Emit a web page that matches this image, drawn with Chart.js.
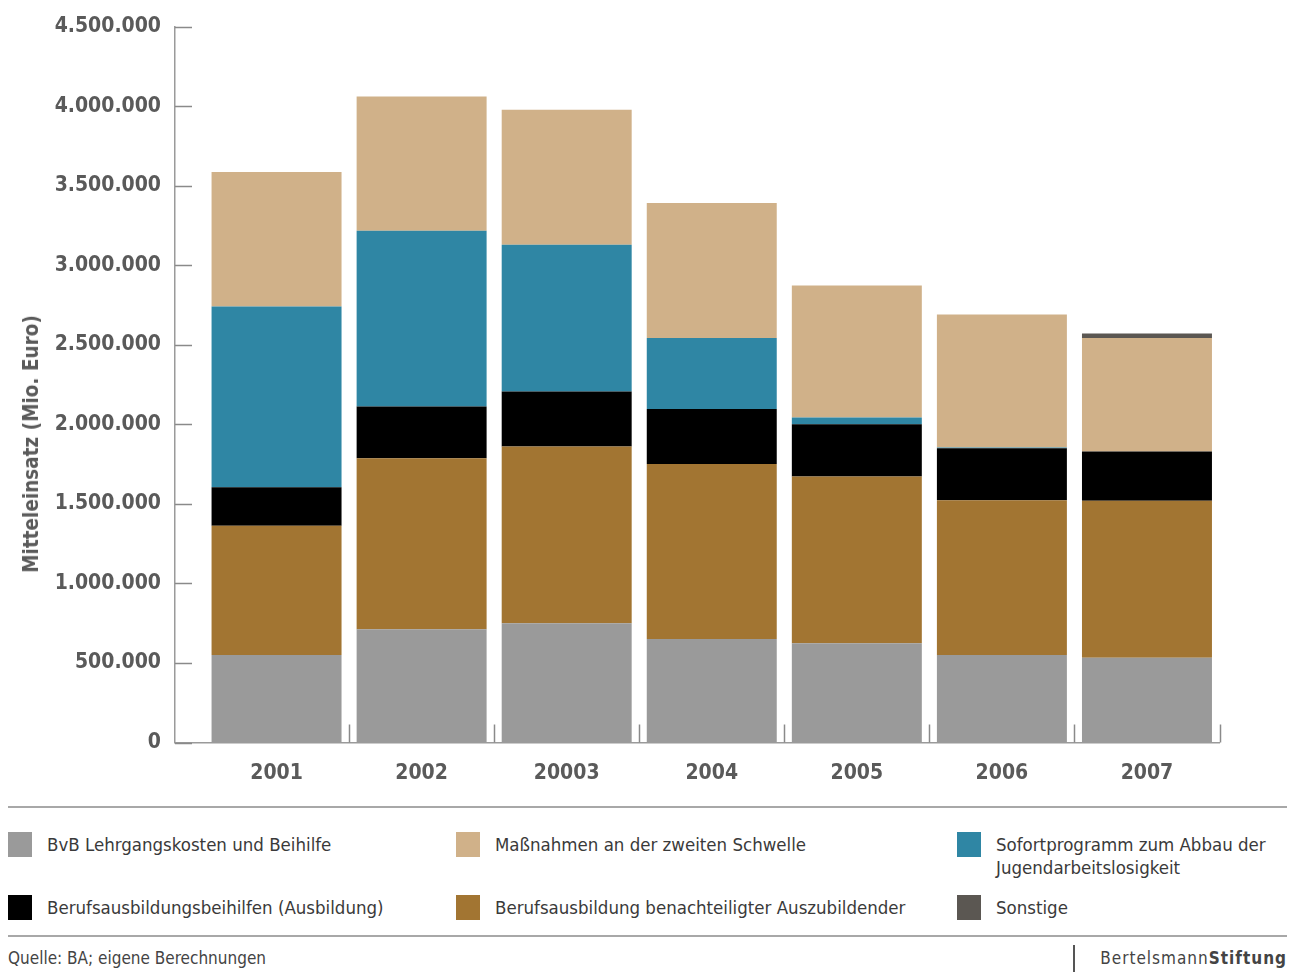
<!DOCTYPE html>
<html><head><meta charset="utf-8">
<script src="https://cdn.jsdelivr.net/npm/chart.js@4.4.1/dist/chart.umd.min.js"></script>
<style>
html,body{margin:0;padding:0;background:#fff;}
body{width:1297px;height:977px;position:relative;overflow:hidden;font-family:"DejaVu Sans Condensed","DejaVu Sans",sans-serif;}
#wrap{position:absolute;left:0;top:0;width:1297px;height:800px;}
#ytitle{position:absolute;left:31px;top:444px;transform:translate(-50%,-50%) rotate(-90deg);white-space:nowrap;font-weight:bold;font-size:20.5px;font-family:"DejaVu Sans Condensed","DejaVu Sans",sans-serif;color:#5a5a5a;}
.rule{position:absolute;left:8px;width:1279px;height:2px;background:#a8a8a8;}
.leg{position:absolute;}
.sw{position:absolute;left:0;top:0;width:24px;height:25px;}
.lt{position:absolute;left:39px;top:1px;font-size:18.5px;line-height:23px;color:#3a3a3a;white-space:nowrap;}
#src{position:absolute;left:8px;top:948px;font-size:17px;line-height:20px;color:#444;}
#sep{position:absolute;left:1073px;top:945px;width:1.5px;height:27px;background:#555;}
#brand{position:absolute;right:10px;top:948px;font-size:17px;line-height:20px;color:#444;letter-spacing:1px;}
</style>
</head><body>
<div id="wrap"><canvas id="c"></canvas></div>
<div id="ytitle">Mitteleinsatz (Mio. Euro)</div>
<div class="rule" style="top:806px"></div>
<div id="legend"></div>
<div class="rule" style="top:935px"></div>
<div id="src">Quelle: BA; eigene Berechnungen</div>
<div id="sep"></div>
<div id="brand">Bertelsmann<b>Stiftung</b></div>
<script>
// ---- data ----
const categories = ['2001', '2002', '20003', '2004', '2005', '2006', '2007'];
const seriesLabels = [
  'BvB Lehrgangskosten und Beihilfe',
  'Berufsausbildung benachteiligter Auszubildender',
  'Berufsausbildungsbeihilfen (Ausbildung)',
  'Sofortprogramm zum Abbau der Jugendarbeitslosigkeit',
  'Maßnahmen an der zweiten Schwelle',
  'Sonstige'
];
const bvb            = [550000, 712000, 750000, 651000, 624000, 550000, 533000];
const benachteiligte = [812000, 1075000, 1110000, 1099000, 1048000, 973000, 986000];
const beihilfen      = [243000, 325000, 346000, 346000, 329000, 326000, 310000];
const sofortprogramm = [1136000, 1105000, 923000, 446000, 42000, 6000, 0];
const massnahmen     = [845000, 843000, 849000, 849000, 830000, 835000, 713000];
const sonstige       = [0, 0, 0, 0, 0, 0, 29000];
const yTickValues    = [0, 500000, 1000000, 1500000, 2000000, 2500000, 3000000, 3500000, 4000000, 4500000];

const seriesValues = [bvb, benachteiligte, beihilfen, sofortprogramm, massnahmen, sonstige];
const seriesColors = ['#9a9a9a', '#a27532', '#000000', '#2f86a4', '#d0b189', '#5b5752'];
// legend layout order (row-wise, three columns)
const legendOrder = [0, 4, 3, 2, 1, 5];

const tickFont = {family: '"DejaVu Sans Condensed","DejaVu Sans",sans-serif', size: 21, weight: 'bold'};
const fmt = v => String(v).replace(/\B(?=(\d{3})+(?!\d))/g, '.');

const datasets = seriesValues.map((vals, s) => ({
  label: seriesLabels[s],
  data: vals.map((v, i) => ({x: i, y: v})),
  backgroundColor: seriesColors[s],
  borderWidth: 0,
  barPercentage: 0.896,
  categoryPercentage: 1.0
}));

const innerTicks = {
  id: 'innerTicks',
  afterDraw(chart) {
    const {ctx, chartArea: a, scales: {x, y}} = chart;
    ctx.save();
    ctx.strokeStyle = '#8a8a8a';
    ctx.lineWidth = 1.5;
    y.ticks.forEach(t => {
      const py = Math.round(y.getPixelForValue(t.value)) + 0.5;
      ctx.beginPath(); ctx.moveTo(a.left, py); ctx.lineTo(a.left + 17, py); ctx.stroke();
    });
    categories.forEach((c, i) => {
      const px = Math.round(x.getPixelForValue(i + 0.5)) + 0.5;
      ctx.beginPath(); ctx.moveTo(px, a.bottom); ctx.lineTo(px, a.bottom - 18); ctx.stroke();
    });
    ctx.restore();
  }
};

const chart = new Chart(document.getElementById('c'), {
  type: 'bar',
  data: {datasets},
  options: {
    responsive: true,
    maintainAspectRatio: false,
    animation: false,
    layout: {padding: {top: 26.5, right: 77.5, left: 0, bottom: 0}},
    plugins: {legend: {display: false}, tooltip: {enabled: false}},
    scales: {
      x: {
        type: 'linear',
        stacked: true,
        offset: false,
        min: -0.7,
        max: categories.length - 0.5,
        afterBuildTicks: s => { s.ticks = categories.map((c, i) => ({value: i})); },
        afterFit: s => { s.height = 57.5; },
        grid: {display: false, drawTicks: false, offset: false},
        border: {display: true, color: '#9a9a9a', width: 1.5},
        ticks: {
          callback: v => categories[v],
          font: tickFont, color: '#5a5a5a', padding: 18, maxRotation: 0, autoSkip: false
        }
      },
      y: {
        stacked: true,
        min: yTickValues[0],
        max: yTickValues[yTickValues.length - 1],
        afterBuildTicks: s => { s.ticks = yTickValues.map(v => ({value: v})); },
        afterFit: s => { s.width = 175; },
        grid: {display: false, drawTicks: false},
        border: {display: true, color: '#9a9a9a', width: 1.5},
        ticks: {callback: v => fmt(v), font: tickFont, color: '#5a5a5a', padding: 14}
      }
    }
  },
  plugins: [innerTicks]
});

// HTML legend built from chart datasets
const cols = [8, 456, 957], rows = [832, 895];
const lg = document.getElementById('legend');
legendOrder.forEach((di, k) => {
  const ds = chart.data.datasets[di];
  const item = document.createElement('div');
  item.className = 'leg';
  item.style.left = cols[k % 3] + 'px';
  item.style.top = rows[Math.floor(k / 3)] + 'px';
  const sw = document.createElement('div');
  sw.className = 'sw';
  sw.style.background = ds.backgroundColor;
  const t = document.createElement('div');
  t.className = 'lt';
  t.innerHTML = ds.label === 'Sofortprogramm zum Abbau der Jugendarbeitslosigkeit'
    ? 'Sofortprogramm zum Abbau der<br>Jugendarbeitslosigkeit' : ds.label;
  item.appendChild(sw); item.appendChild(t);
  lg.appendChild(item);
});
</script>
</body></html>
